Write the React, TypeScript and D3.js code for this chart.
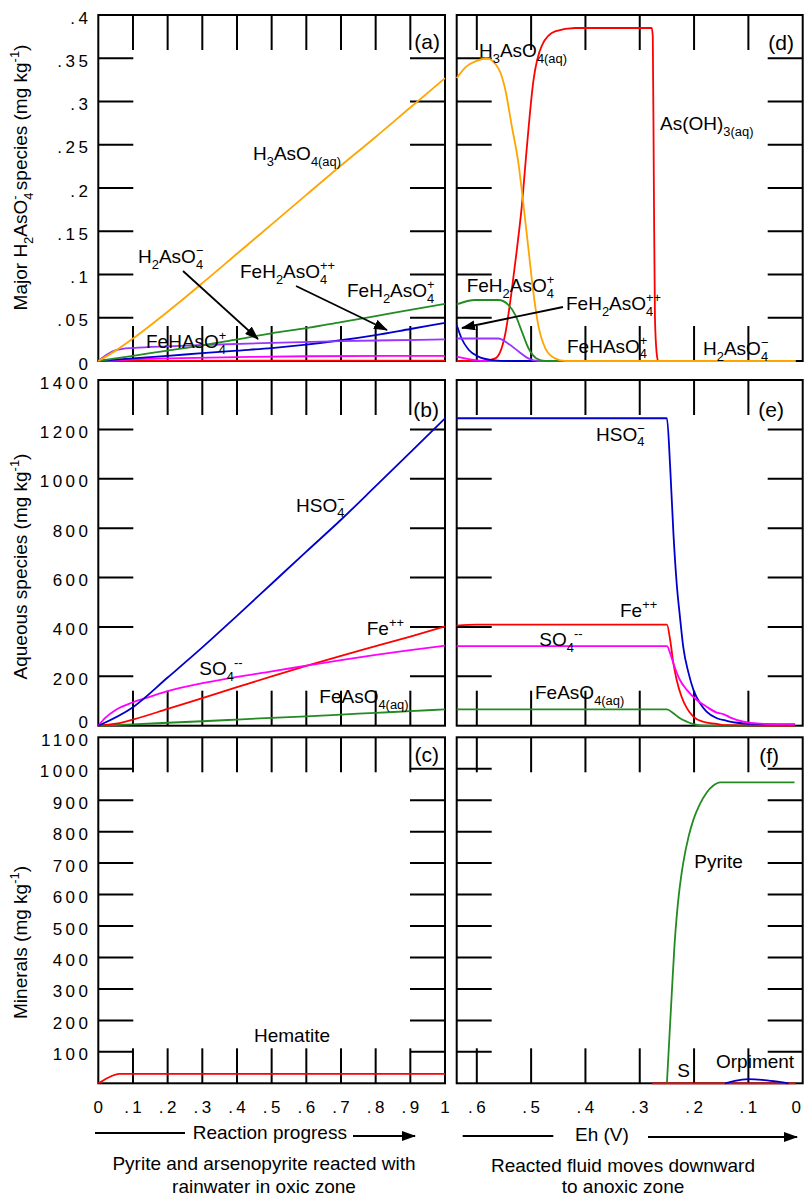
import React, { useEffect, useRef } from "react";
import * as d3 from "d3";

type Pt = [number, number];
type Part = string | { sub?: string; sup?: string; stack?: boolean };

// ---- panel (a): major H2AsO4- species vs reaction progress
const aH3AsO4: Pt[] = [[0, 0], [0.05, 0.012], [0.1, 0.026], [0.2, 0.057], [0.3, 0.09], [0.4, 0.124], [0.5, 0.158], [0.6, 0.192], [0.7, 0.226], [0.8, 0.259], [0.9, 0.293], [1, 0.327]];
const aFeH2AsO4p: Pt[] = [[0, 0], [0.1, 0.006], [0.2, 0.012], [0.3, 0.018], [0.4, 0.025], [0.5, 0.032], [0.6, 0.038], [0.7, 0.045], [0.8, 0.052], [0.9, 0.059], [1, 0.066]];
const aFeH2AsO4pp: Pt[] = [[0, 0], [0.1, 0.003], [0.2, 0.006], [0.3, 0.009], [0.4, 0.012], [0.5, 0.015], [0.6, 0.019], [0.7, 0.024], [0.8, 0.03], [0.9, 0.037], [1, 0.044]];
const aFeHAsO4p: Pt[] = [[0, 0], [0.02, 0.006], [0.04, 0.011], [0.07, 0.014], [0.1, 0.015], [0.2, 0.017], [0.3, 0.0185], [0.5, 0.021], [0.7, 0.023], [0.85, 0.024], [1, 0.025]];
const aH2AsO4m: Pt[] = [[0, 0], [0.1, 0.002], [0.2, 0.003], [0.4, 0.0045], [0.6, 0.0055], [1, 0.006]];
const aAsOH3: Pt[] = [[0, 0], [0.5, 0.0003], [1, 0.0005]];

// ---- panel (d): same species vs Eh
const dH3AsO4: Pt[] = [[0.637, 0.327], [0.62, 0.34], [0.6, 0.347], [0.582, 0.35], [0.56, 0.338], [0.548, 0.315], [0.536, 0.273], [0.523, 0.227], [0.514, 0.18], [0.505, 0.13], [0.496, 0.08], [0.487, 0.042], [0.474, 0.015], [0.456, 0.003], [0.437, 0], [0.013, 0]];
const dAsOH3: Pt[] = [[0.637, 0], [0.59, 0], [0.566, 0.003], [0.548, 0.03], [0.536, 0.08], [0.526, 0.13], [0.517, 0.18], [0.508, 0.246], [0.496, 0.323], [0.48, 0.365], [0.456, 0.381], [0.419, 0.385], [0.278, 0.385], [0.276, 0.375], [0.274, 0.2], [0.272, 0.05], [0.269, 0.01], [0.266, 0], [0.013, 0]];
const dFeH2AsO4p: Pt[] = [[0.637, 0.0655], [0.603, 0.0705], [0.56, 0.0705], [0.542, 0.065], [0.529, 0.053], [0.517, 0.034], [0.505, 0.015], [0.49, 0.003], [0.474, 0], [0.013, 0]];
const dFeHAsO4p: Pt[] = [[0.637, 0.026], [0.56, 0.026], [0.542, 0.02], [0.523, 0.011], [0.505, 0.003], [0.487, 0], [0.013, 0]];
const dFeH2AsO4pp: Pt[] = [[0.637, 0.0416], [0.628, 0.026], [0.615, 0.013], [0.597, 0.005], [0.572, 0.001], [0.54, 0], [0.013, 0]];
const dH2AsO4m: Pt[] = [[0.637, 0.005], [0.603, 0.001], [0.58, 0], [0.013, 0]];

// ---- panel (b): aqueous species vs reaction progress
const bHSO4: Pt[] = [[0, 0], [0.1, 75], [0.2, 195], [0.3, 317], [0.4, 445], [0.5, 575], [0.6, 705], [0.7, 834], [0.8, 970], [0.9, 1107], [1, 1245]];
const bFe: Pt[] = [[0, 0], [0.05, 8], [0.1, 25], [0.2, 68], [0.3, 112], [0.4, 156], [0.5, 200], [0.6, 242], [0.7, 283], [0.8, 322], [0.9, 361], [1, 402]];
const bSO4: Pt[] = [[0, 0], [0.02, 32], [0.05, 64], [0.1, 95], [0.15, 118], [0.2, 140], [0.3, 172], [0.4, 198], [0.5, 220], [0.6, 243], [0.7, 266], [0.8, 287], [0.9, 306], [1, 324]];
const bFeAsO4: Pt[] = [[0, 0], [0.1, 5], [0.2, 12], [0.3, 18], [0.4, 25], [0.5, 32], [0.6, 38], [0.7, 45], [0.8, 52], [0.9, 59], [1, 66]];

// ---- panel (e): aqueous species vs Eh
const eHSO4: Pt[] = [[0.637, 1245], [0.25, 1245], [0.244, 1048], [0.238, 779], [0.232, 576], [0.226, 441], [0.22, 320], [0.21, 212], [0.201, 144], [0.189, 91], [0.177, 57], [0.158, 30], [0.14, 20], [0.121, 12], [0.097, 7], [0.014, 5]];
const eFe: Pt[] = [[0.637, 405], [0.6, 409], [0.25, 409], [0.244, 347], [0.238, 252], [0.232, 185], [0.223, 117], [0.213, 70], [0.201, 36], [0.183, 16], [0.158, 7], [0.146, 2], [0.014, 0]];
const eSO4: Pt[] = [[0.637, 322], [0.25, 322], [0.244, 293], [0.238, 252], [0.226, 185], [0.213, 144], [0.195, 104], [0.177, 77], [0.158, 53], [0.146, 47], [0.134, 34], [0.109, 16], [0.079, 8], [0.014, 5]];
const eFeAsO4: Pt[] = [[0.637, 66], [0.25, 66], [0.238, 50], [0.226, 30], [0.213, 16], [0.201, 6], [0.189, 1], [0.17, 0], [0.014, 0]];

// ---- panels (c), (f): minerals
const cHematite: Pt[] = [[0, 0], [0.02, 13], [0.04, 24], [0.06, 30], [1, 30]];
const fPyrite: Pt[] = [[0.25, 0], [0.245, 160], [0.241, 287], [0.236, 440], [0.232, 530], [0.228, 600], [0.224, 655], [0.22, 700], [0.21, 785], [0.201, 839], [0.19, 885], [0.177, 924], [0.165, 946], [0.152, 957], [0.015, 957]];
const fSulfur: Pt[] = [[0.277, 0], [0.013, 0]];
const fOrpiment: Pt[] = [[0.143, 0], [0.125, 8], [0.1, 13], [0.075, 11], [0.05, 6], [0.026, 0]];

// ---- ticks
const progressTicks = [0, 0.1, 0.2, 0.3, 0.4, 0.5, 0.6, 0.7, 0.8, 0.9, 1];
const ehTicks = [0.6, 0.5, 0.4, 0.3, 0.2, 0.1, 0];
const arsTicks = [0, 0.05, 0.1, 0.15, 0.2, 0.25, 0.3, 0.35, 0.4];
const aqTicks = [0, 200, 400, 600, 800, 1000, 1200, 1400];
const minTicks = [100, 200, 300, 400, 500, 600, 700, 800, 900, 1000, 1100];

const C = {
  orange: "#ffa500",
  red: "#ff0000",
  green: "#228b22",
  blue: "#0000cd",
  purple: "#9933ff",
  magenta: "#ff00ff",
};

const FONT = "'Liberation Sans', Arial, sans-serif";

const fmt = (v: number) =>
  v === 0 ? "0" : v === 1 ? "1" : String(+v.toFixed(2)).replace(/^0/, "");

function formula(g: any, x: number, y: number, parts: Part[], size = 19, anchor = "start", transform?: string) {
  const t = g
    .append("text")
    .attr("x", x)
    .attr("y", y)
    .attr("font-size", size)
    .attr("text-anchor", anchor)
    .attr("fill", "#000");
  if (transform) t.attr("transform", transform);
  const small = size * 0.68;
  const subDy = size * 0.3;
  const supDy = -size * 0.4;
  let cur = 0;
  parts.forEach((p) => {
    if (typeof p === "string") {
      t.append("tspan").attr("dy", -cur).text(p);
      cur = 0;
      return;
    }
    let subLen = 0;
    if (p.sub) {
      const s = t.append("tspan").attr("dy", subDy - cur).attr("font-size", small).text(p.sub);
      cur = subDy;
      subLen = (s.node() as SVGTSpanElement).getComputedTextLength();
    }
    if (p.sup) {
      const s = t.append("tspan").attr("dy", supDy - cur).attr("font-size", small).text(p.sup);
      if (p.sub && p.stack !== false) s.attr("dx", -subLen);
      cur = supDy;
    }
  });
}

export default function App() {
  const svgRef = useRef<SVGSVGElement>(null);

  useEffect(() => {
    if (!svgRef.current) return;
    const svg = d3.select(svgRef.current);
    svg.selectAll("*").remove();
    svg.attr("font-family", FONT);

    const defs = svg.append("defs");
    defs
      .append("marker")
      .attr("id", "arr")
      .attr("markerUnits", "userSpaceOnUse")
      .attr("markerWidth", 14)
      .attr("markerHeight", 10)
      .attr("refX", 13)
      .attr("refY", 5)
      .attr("orient", "auto")
      .append("path")
      .attr("d", "M0,0 L14,5 L0,10 Z")
      .attr("fill", "#000");

    const xL = d3.scaleLinear().domain([0, 1]).range([98.3, 445]);
    const xR = d3.scaleLinear().domain([0.637, 0]).range([456.7, 802.7]);
    const yA = d3.scaleLinear().domain([0, 0.4]).range([361, 15]);
    const yB = d3.scaleLinear().domain([0, 1400]).range([725.7, 380]);
    const yC = d3.scaleLinear().domain([0, 1100]).range([1083.3, 737.3]);

    const TL = 35;
    const frame = (x: any, y: any, xt: number[], yt: number[]) => {
      const g = svg.append("g").attr("stroke", "#000").attr("stroke-width", 2);
      const [x0, x1] = x.range();
      const [yb, yt0] = y.range();
      xt.filter((v) => Math.abs(x(v) - x0) > 1 && Math.abs(x(v) - x1) > 1).forEach((v) => {
        g.append("line").attr("x1", x(v)).attr("x2", x(v)).attr("y1", yt0).attr("y2", yt0 + TL);
        g.append("line").attr("x1", x(v)).attr("x2", x(v)).attr("y1", yb).attr("y2", yb - TL);
      });
      yt.filter((v) => Math.abs(y(v) - yb) > 1 && Math.abs(y(v) - yt0) > 1).forEach((v) => {
        g.append("line").attr("x1", x0).attr("x2", x0 + TL).attr("y1", y(v)).attr("y2", y(v));
        g.append("line").attr("x1", x1).attr("x2", x1 - TL).attr("y1", y(v)).attr("y2", y(v));
      });
      g.append("rect")
        .attr("x", x0)
        .attr("y", yt0)
        .attr("width", x1 - x0)
        .attr("height", yb - yt0)
        .attr("fill", "none");
    };

    const series = (x: any, y: any, data: Pt[], color: string) => {
      const line = d3
        .line<Pt>()
        .x((d) => x(d[0]))
        .y((d) => y(d[1]))
        .curve(d3.curveMonotoneX);
      svg
        .append("path")
        .datum(data)
        .attr("d", line)
        .attr("fill", "none")
        .attr("stroke", color)
        .attr("stroke-width", 1.8)
        .attr("stroke-linejoin", "round");
    };

    const yLabels = (y: any, ticks: number[], zeroShift = 0) => {
      const g = svg.append("g").attr("font-size", 17).attr("letter-spacing", 3.5).attr("text-anchor", "end");
      ticks.forEach((v) => {
        g.append("text")
          .attr("x", 91.5)
          .attr("y", y(v) + 8.5 + (v === 0 ? zeroShift : 0))
          .text(fmt(v));
      });
    };

    const panelTag = (x: number, y: number, s: string) =>
      svg.append("text").attr("x", x).attr("y", y).attr("font-size", 21).attr("text-anchor", "end").text(s);

    // frames
    frame(xL, yA, progressTicks, arsTicks);
    frame(xR, yA, ehTicks, arsTicks);
    frame(xL, yB, progressTicks, aqTicks);
    frame(xR, yB, ehTicks, aqTicks);
    frame(xL, yC, progressTicks, [0, ...minTicks]);
    frame(xR, yC, ehTicks, [0, ...minTicks]);

    // panel (a)
    series(xL, yA, aAsOH3, C.red);
    series(xL, yA, aH2AsO4m, C.magenta);
    series(xL, yA, aFeH2AsO4pp, C.blue);
    series(xL, yA, aFeHAsO4p, C.purple);
    series(xL, yA, aFeH2AsO4p, C.green);
    series(xL, yA, aH3AsO4, C.orange);

    // panel (d)
    series(xR, yA, dAsOH3, C.red);
    series(xR, yA, dH2AsO4m, C.magenta);
    series(xR, yA, dFeH2AsO4pp, C.blue);
    series(xR, yA, dFeHAsO4p, C.purple);
    series(xR, yA, dFeH2AsO4p, C.green);
    series(xR, yA, dH3AsO4, C.orange);

    // panel (b)
    series(xL, yB, bFeAsO4, C.green);
    series(xL, yB, bFe, C.red);
    series(xL, yB, bSO4, C.magenta);
    series(xL, yB, bHSO4, C.blue);

    // panel (e)
    series(xR, yB, eFeAsO4, C.green);
    series(xR, yB, eFe, C.red);
    series(xR, yB, eHSO4, C.blue);
    series(xR, yB, eSO4, C.magenta);

    // panel (c), (f)
    series(xL, yC, cHematite, C.red);
    series(xR, yC, fPyrite, C.green);
    series(xR, yC, fSulfur, C.red);
    series(xR, yC, fOrpiment, C.blue);

    // tick labels
    yLabels(yA, arsTicks);
    yLabels(yB, aqTicks, -6);
    yLabels(yC, minTicks);

    const xlab = svg.append("g").attr("font-size", 17).attr("letter-spacing", 3.5).attr("text-anchor", "middle");
    progressTicks.forEach((v) => xlab.append("text").attr("x", xL(v) + 1.75).attr("y", 1112.7).text(fmt(v)));
    ehTicks.forEach((v) =>
      xlab
        .append("text")
        .attr("x", Math.min(xR(v) + 1.75, 798))
        .attr("y", 1112.7)
        .text(fmt(v))
    );

    panelTag(440, 49, "(a)");
    panelTag(794, 50, "(d)");
    panelTag(439, 416.7, "(b)");
    panelTag(784, 416.7, "(e)");
    panelTag(439, 762, "(c)");
    panelTag(779, 763, "(f)");

    // axis titles
    formula(svg, 27, 177.5, ["Major H", { sub: "2" }, "AsO", { sub: "4", sup: "-" }, " species (mg kg", { sup: "-1" }, ")"], 19, "middle", "rotate(-90,27,177.5)");
    formula(svg, 27, 566.5, ["Aqueous species (mg kg", { sup: "-1" }, ")"], 19, "middle", "rotate(-90,27,566.5)");
    formula(svg, 27, 942.5, ["Minerals (mg kg", { sup: "-1" }, ")"], 19, "middle", "rotate(-90,27,942.5)");

    // annotations (a)
    formula(svg, 253, 160, ["H", { sub: "3" }, "AsO", { sub: "4(aq)" }]);
    formula(svg, 138, 263, ["H", { sub: "2" }, "AsO", { sub: "4", sup: "\u2212" }]);
    formula(svg, 240, 278, ["FeH", { sub: "2" }, "AsO", { sub: "4", sup: "++" }]);
    formula(svg, 347, 297, ["FeH", { sub: "2" }, "AsO", { sub: "4", sup: "+" }]);
    formula(svg, 146, 348, ["FeHAsO", { sub: "4", sup: "+" }]);

    // annotations (d)
    formula(svg, 479, 57, ["H", { sub: "3" }, "AsO", { sub: "4(aq)" }]);
    formula(svg, 660, 130, ["As(OH)", { sub: "3(aq)" }]);
    formula(svg, 466.7, 292, ["FeH", { sub: "2" }, "AsO", { sub: "4", sup: "+" }]);
    formula(svg, 566, 310, ["FeH", { sub: "2" }, "AsO", { sub: "4", sup: "++" }]);
    formula(svg, 567, 352.7, ["FeHAsO", { sub: "4", sup: "+" }]);
    formula(svg, 703, 355, ["H", { sub: "2" }, "AsO", { sub: "4", sup: "\u2212" }]);

    // annotations (b)
    formula(svg, 296, 511.7, ["HSO", { sub: "4", sup: "\u2212" }]);
    formula(svg, 366.7, 635, ["Fe", { sup: "++" }]);
    formula(svg, 199.3, 675, ["SO", { sub: "4" }, { sup: "--" }]);
    formula(svg, 319.3, 703.3, ["FeAsO", { sub: "4(aq)" }]);

    // annotations (e)
    formula(svg, 596, 440.7, ["HSO", { sub: "4", sup: "\u2212" }]);
    formula(svg, 620, 616.7, ["Fe", { sup: "++" }]);
    formula(svg, 539.3, 646, ["SO", { sub: "4" }, { sup: "--" }]);
    formula(svg, 535, 699.3, ["FeAsO", { sub: "4(aq)" }]);

    // annotations (c), (f)
    formula(svg, 254, 1042.3, ["Hematite"]);
    formula(svg, 694.3, 868.3, ["Pyrite"]);
    formula(svg, 677.3, 1076.7, ["S"]);
    formula(svg, 716, 1068.3, ["Orpiment"]);

    // pointer arrows
    const arrow = (x1: number, y1: number, x2: number, y2: number) =>
      svg
        .append("line")
        .attr("x1", x1)
        .attr("y1", y1)
        .attr("x2", x2)
        .attr("y2", y2)
        .attr("stroke", "#000")
        .attr("stroke-width", 1.8)
        .attr("marker-end", "url(#arr)");
    arrow(183, 271, 258, 339);
    arrow(296, 286, 387, 330);
    arrow(563, 307, 462, 328);

    // x-axis titles
    const plain = (x1: number, y1: number, x2: number, y2: number) =>
      svg.append("line").attr("x1", x1).attr("y1", y1).attr("x2", x2).attr("y2", y2).attr("stroke", "#000").attr("stroke-width", 1.8);
    plain(95, 1133, 185, 1133);
    arrow(353, 1136, 415, 1136);
    formula(svg, 192.7, 1139.3, ["Reaction progress"]);
    plain(462.7, 1136, 553.3, 1136);
    arrow(648, 1137, 797, 1137);
    formula(svg, 575, 1140.7, ["Eh (V)"]);

    formula(svg, 264, 1170, ["Pyrite and arsenopyrite reacted with"], 19, "middle");
    formula(svg, 264, 1193, ["rainwater in oxic zone"], 19, "middle");
    formula(svg, 623, 1171.7, ["Reacted fluid moves downward"], 19, "middle");
    formula(svg, 623, 1193, ["to anoxic zone"], 19, "middle");
  }, []);

  return (
    <svg
      ref={svgRef}
      width={805}
      height={1196}
      style={{ position: "absolute", left: 0, top: 0, background: "#fff" }}
    />
  );
}
